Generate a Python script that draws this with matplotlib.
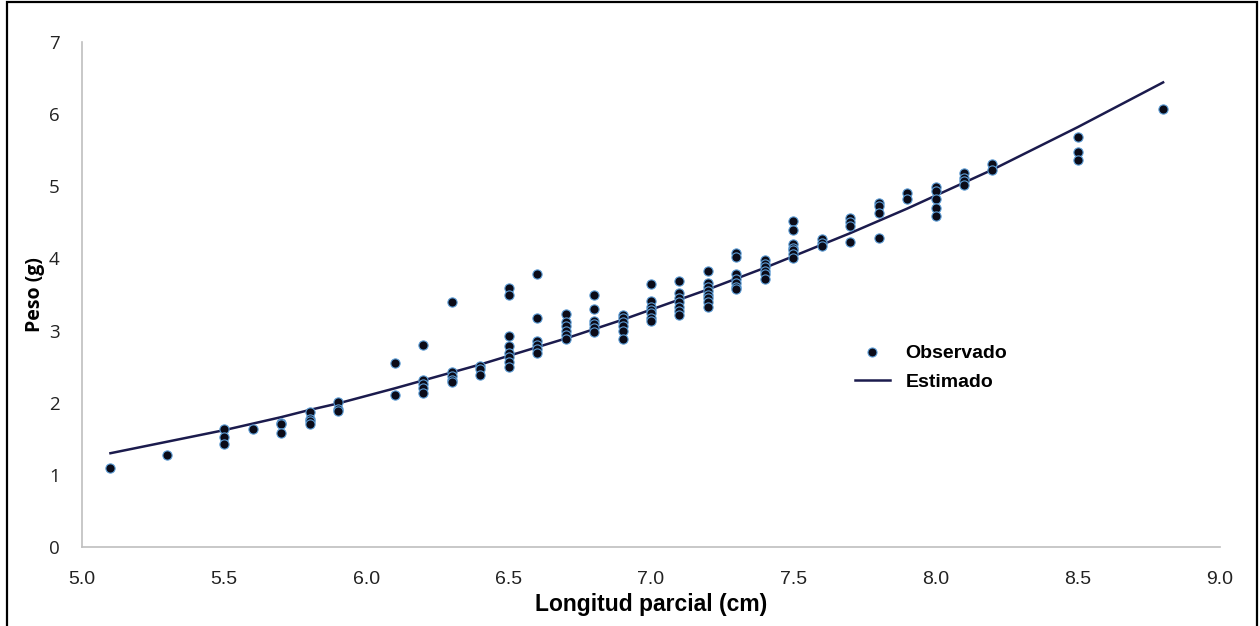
import matplotlib
matplotlib.use("Agg")
import matplotlib.pyplot as plt
from matplotlib.patches import Rectangle
from matplotlib.lines import Line2D

# Observed data (length cm, weight g)
obs_length = ([5.1] + [5.3] + [5.5]*3 + [5.6] + [5.7]*3 + [5.8]*4 + [5.9]*3 +
              [6.1]*2 + [6.2]*5 + [6.3]*5 + [6.4]*3 + [6.5]*8 + [6.6]*6 +
              [6.7]*6 + [6.8]*6 + [6.9]*6 + [7.0]*7 + [7.1]*7 + [7.2]*8 +
              [7.3]*7 + [7.4]*6 + [7.5]*7 + [7.6]*3 + [7.7]*4 + [7.8]*4 +
              [7.9]*2 + [8.0]*5 + [8.1]*4 + [8.2]*2 + [8.5]*3 + [8.8])
obs_weight = [1.10,
              1.28,
              1.63, 1.52, 1.43,
              1.63,
              1.72, 1.70, 1.58,
              1.87, 1.77, 1.74, 1.70,
              2.01, 1.91, 1.89,
              2.55, 2.11,
              2.80, 2.31, 2.26, 2.20, 2.14,
              3.39, 2.42, 2.37, 2.32, 2.29,
              2.51, 2.47, 2.38,
              3.59, 3.50, 2.92, 2.79, 2.69, 2.64, 2.57, 2.50,
              3.78, 3.18, 2.86, 2.80, 2.75, 2.69,
              3.23, 3.12, 3.06, 3.00, 2.94, 2.88,
              3.50, 3.30, 3.13, 3.09, 3.04, 2.98,
              3.22, 3.17, 3.12, 3.07, 3.00, 2.88,
              3.64, 3.41, 3.33, 3.29, 3.24, 3.18, 3.13,
              3.69, 3.52, 3.45, 3.39, 3.33, 3.27, 3.22,
              3.82, 3.66, 3.61, 3.55, 3.50, 3.45, 3.39, 3.33,
              4.07, 4.02, 3.79, 3.72, 3.66, 3.61, 3.57,
              3.98, 3.92, 3.88, 3.83, 3.78, 3.72,
              4.52, 4.40, 4.20, 4.15, 4.11, 4.06, 4.00,
              4.27, 4.22, 4.17,
              4.56, 4.51, 4.45, 4.23,
              4.77, 4.73, 4.63, 4.29,
              4.91, 4.82,
              4.99, 4.93, 4.82, 4.70, 4.59,
              5.18, 5.12, 5.08, 5.02,
              5.31, 5.22,
              5.68, 5.48, 5.37,
              6.07]

# Estimated curve
est_length = [5.1, 5.3, 5.5, 5.6, 5.7, 5.8, 5.9, 6.1, 6.2, 6.3, 6.4, 6.5, 6.6,
              6.7, 6.8, 6.9, 7.0, 7.1, 7.2, 7.3, 7.4, 7.5, 7.6, 7.7, 7.8, 7.9,
              8.0, 8.1, 8.2, 8.5, 8.8]
est_weight = [1.30, 1.46, 1.62, 1.71, 1.80, 1.90, 1.99, 2.20, 2.31, 2.42, 2.53,
              2.65, 2.77, 2.89, 3.02, 3.15, 3.29, 3.43, 3.57, 3.72, 3.87, 4.03,
              4.19, 4.35, 4.52, 4.69, 4.87, 5.05, 5.23, 5.82, 6.44]

x_ticks = [5.0, 5.5, 6.0, 6.5, 7.0, 7.5, 8.0, 8.5, 9.0]
y_ticks = [0, 1, 2, 3, 4, 5, 6, 7]

fig = plt.figure(figsize=(12.6, 6.26), dpi=100)
ax = fig.add_axes([82/1260, 1 - 547/626, (1220-82)/1260, (547-42)/626])

line_color = '#1b1b4d'
ax.plot(est_length, est_weight, color=line_color, lw=1.8, zorder=2)
ax.scatter(obs_length, obs_weight, s=44, facecolor='#0b0b18',
           edgecolor='#5b9bd5', linewidths=0.8, zorder=3)

ax.set_xlim(5.0, 9.0)
ax.set_ylim(0, 7)
ax.set_xticks(x_ticks)
ax.set_xticklabels([f"{v:.1f}" for v in x_ticks],
                   fontfamily='Liberation Sans', fontsize=14)
ax.set_yticks(y_ticks)
ax.set_yticklabels([str(v) for v in y_ticks], fontfamily='Open Sans', fontsize=13.5)
ax.tick_params(axis='both', length=0, colors='#222222')
ax.tick_params(axis='y', pad=16)
ax.tick_params(axis='x', pad=17)

for s in ['top', 'right']:
    ax.spines[s].set_visible(False)
for s in ['left', 'bottom']:
    ax.spines[s].set_color('#bfbfbf')
    ax.spines[s].set_linewidth(1.2)

ax.set_xlabel('Longitud parcial (cm)', fontfamily='Liberation Sans',
              fontweight='bold', fontsize=16.5, labelpad=4)
ax.set_ylabel('Peso (g)', fontfamily='Open Sans', fontweight='bold',
              fontsize=14, labelpad=3)

handles = [Line2D([], [], ls='none', marker='o', markersize=6.5,
                  markerfacecolor='#0b0b18', markeredgecolor='#5b9bd5',
                  markeredgewidth=0.8),
           Line2D([], [], color=line_color, lw=1.8)]
leg = ax.legend(handles, ['Observado', 'Estimado'], loc='center left',
                bbox_to_anchor=(0.679, 0.355), frameon=False,
                prop={'family': 'Liberation Sans', 'weight': 'bold', 'size': 14},
                handlelength=1.8, handletextpad=0.8, labelspacing=0.55,
                borderpad=0, borderaxespad=0)

fig.patches.append(Rectangle((7/1260, -0.02), (1257-7)/1260, 1.02 - 2/626,
                             transform=fig.transFigure, fill=False,
                             edgecolor='black', lw=1.6, zorder=10))

fig.savefig('out.png', dpi=100)
